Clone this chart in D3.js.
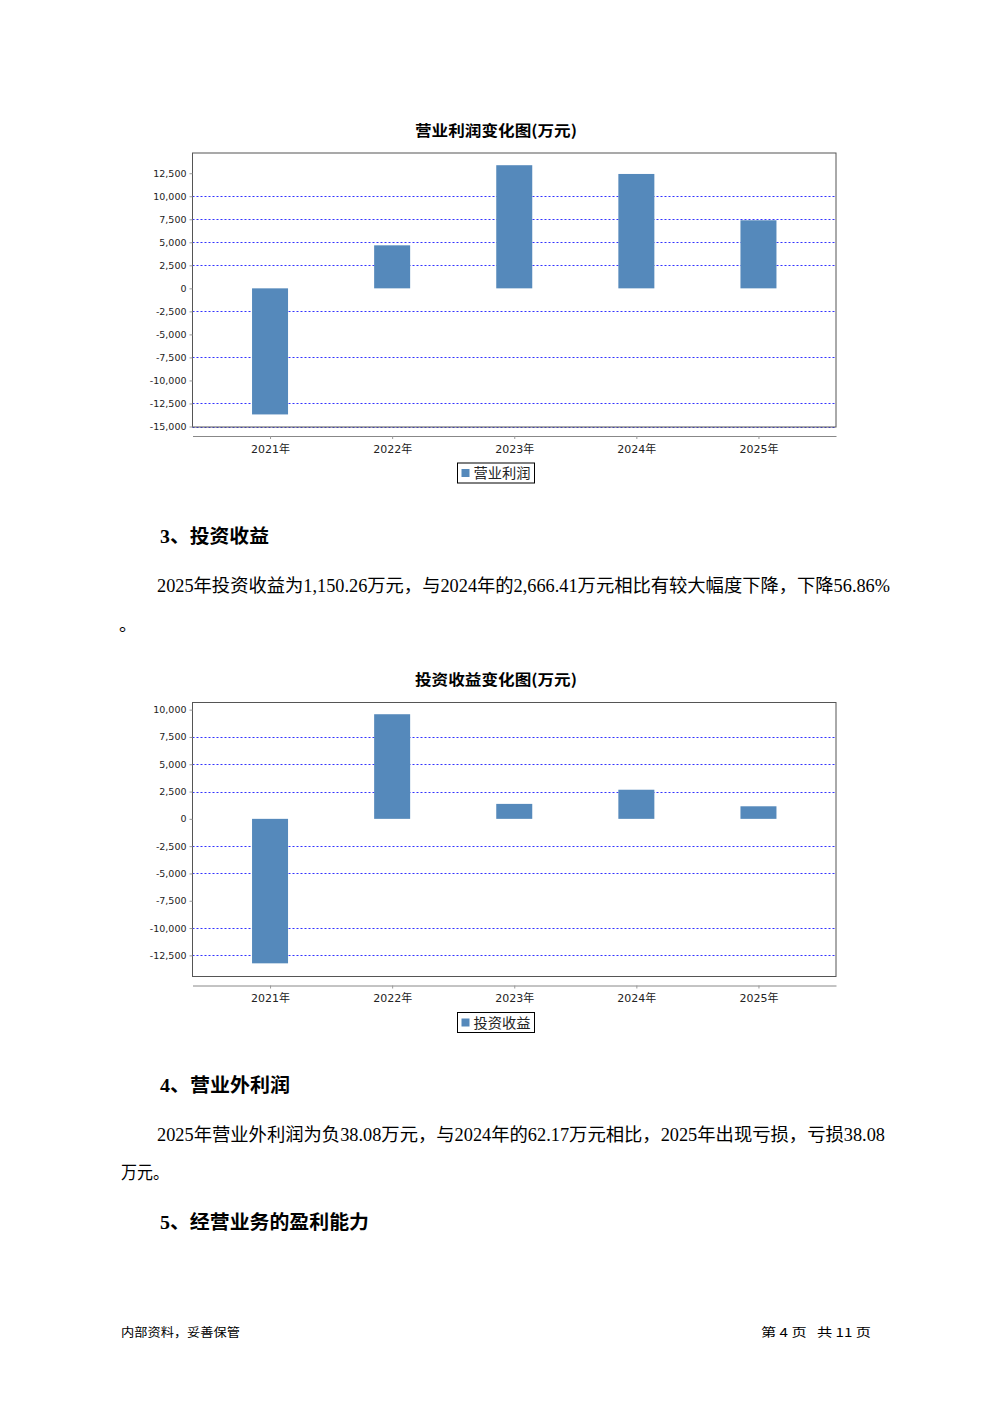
<!DOCTYPE html>
<html><head><meta charset="utf-8">
<script src="https://cdn.jsdelivr.net/npm/d3@7/dist/d3.min.js"></script>
<style>html,body{margin:0;padding:0;background:#fff;}</style>
</head><body>
<script>
// ---- data ----
const categories = ["2021年", "2022年", "2023年", "2024年", "2025年"];
const operatingProfit = [-13690, 4670, 13370, 12420, 7390];
const investmentIncome = [-13230, 9580, 1370, 2666.41, 1150.26];
const ticks1 = [-15000, -12500, -10000, -7500, -5000, -2500, 0, 2500, 5000, 7500, 10000, 12500];
const ticks2 = [-12500, -10000, -7500, -5000, -2500, 0, 2500, 5000, 7500, 10000];
const grid1 = [-15000, -12500, -7500, -2500, 2500, 5000, 7500, 10000];
const grid2 = [-12500, -10000, -5000, -2500, 2500, 5000, 7500];
const domain1 = [-15000, 14750];
const domain2 = [-14390, 10700];

const W = 992, H = 1403;
const svg = d3.select("body").append("svg").attr("width", W).attr("height", H)
  .style("display","block").style("background","#fff");

const CJK = "'Noto Sans CJK SC', sans-serif";
const SERIF = "'Liberation Serif', 'Noto Sans CJK SC', serif";
const SANS = "'DejaVu Sans', 'Noto Sans CJK SC', sans-serif";
const fmtBase = d3.format(",");
const fmt = d => fmtBase(d).replace("\u2212", "-");

function drawChart(o) {
  const g = svg.append("g");
  const left = 192.5, right = 836, top = o.top, bottom = o.top + 274;
  const x = d3.scalePoint().domain(categories).range([left, right]).padding(0.635);
  const y = d3.scaleLinear().domain(o.domain).range([bottom, top]);

  // title
  g.append("text").attr("x", 496).attr("y", top - 17).attr("text-anchor", "middle")
    .attr("font-family", CJK).attr("font-weight", "bold").attr("font-size", 15)
    .attr("textLength", 162).attr("lengthAdjust", "spacingAndGlyphs")
    .attr("fill", "#000").text(o.title);

  g.append("rect").attr("x", left).attr("y", top).attr("width", right - left).attr("height", bottom - top)
    .attr("fill", "#fff");

  // gridlines
  g.selectAll(".grid").data(o.grid).enter().append("line")
    .attr("x1", left).attr("x2", right)
    .attr("y1", d => Math.round(y(d)) + 0.5).attr("y2", d => Math.round(y(d)) + 0.5)
    .attr("stroke", "#3333ff").attr("stroke-width", 1).attr("stroke-dasharray", "2,2");

  // bars
  const bw = 36;
  g.selectAll(".bar").data(o.values).enter().append("rect")
    .attr("x", (d, i) => x(categories[i]) - bw / 2)
    .attr("y", d => y(Math.max(0, d)))
    .attr("width", bw)
    .attr("height", d => Math.abs(y(d) - y(0)))
    .attr("fill", "#5589bb");

  // border
  g.append("rect").attr("x", left).attr("y", top + 0.5).attr("width", right - left).attr("height", bottom - top)
    .attr("fill", "none").attr("stroke", "#555").attr("stroke-width", 1);

  // y axis
  const ya = d3.axisLeft(y).tickValues(o.ticks).tickFormat(fmt).tickSize(3).tickPadding(3);
  const yg = g.append("g").attr("transform", `translate(${left},0)`).call(ya);
  yg.select(".domain").remove();
  yg.selectAll(".tick line").attr("stroke", "#999");
  yg.selectAll(".tick text").attr("font-family", SANS).attr("font-size", 9.5).attr("fill", "#222");

  // x axis (separate line below plot)
  const axY = bottom + 9.5;
  const xa = d3.axisBottom(x).tickSize(3).tickPadding(6).tickSizeOuter(0);
  const xg = g.append("g").attr("transform", `translate(0,${axY})`).call(xa);
  xg.select(".domain").attr("stroke", "#888");
  xg.selectAll(".tick line").attr("stroke", "#999");
  xg.selectAll(".tick text").attr("font-family", SANS).attr("font-size", 11).attr("fill", "#222");

  // legend
  const lx = 457.5, ly = bottom + 36.5;
  g.append("rect").attr("x", lx).attr("y", ly).attr("width", 77).attr("height", 20)
    .attr("fill", "#fff").attr("stroke", "#000").attr("stroke-width", 1);
  g.append("rect").attr("x", lx + 4).attr("y", ly + 6).attr("width", 8).attr("height", 8).attr("fill", "#5589bb");
  g.append("text").attr("x", lx + 16).attr("y", ly + 15).attr("font-family", CJK).attr("font-size", 13.5)
    .attr("textLength", 57).attr("lengthAdjust", "spacingAndGlyphs").attr("fill", "#222").text(o.legend);
}

drawChart({ top: 152.5, domain: domain1, values: operatingProfit, ticks: ticks1, grid: grid1,
  title: "营业利润变化图(万元)", legend: "营业利润" });
drawChart({ top: 702, domain: domain2, values: investmentIncome, ticks: ticks2, grid: grid2,
  title: "投资收益变化图(万元)", legend: "投资收益" });

function txt(x, y, s, size, len, bold, family) {
  svg.append("text").attr("x", x).attr("y", y).attr("font-family", family || SERIF)
    .attr("font-size", size).attr("font-weight", bold ? "bold" : "normal")
    .attr("fill", "#000").style("white-space", "pre")
    .attr("textLength", len).attr("lengthAdjust", "spacingAndGlyphs").text(s);
}

txt(160, 543, "3、投资收益", 19, 109, true);
txt(157, 592, "2025年投资收益为1,150.26万元，与2024年的2,666.41万元相比有较大幅度下降，下降56.86%", 18, 733, false);
svg.append("text").attr("x", 119).attr("y", 631).attr("font-family", CJK).attr("font-size", 18).text("。");
txt(160, 1092, "4、营业外利润", 19, 130, true);
txt(157, 1141, "2025年营业外利润为负38.08万元，与2024年的62.17万元相比，2025年出现亏损，亏损38.08", 18, 728, false);
txt(121, 1179, "万元。", 18, 48, false);
txt(160, 1229, "5、经营业务的盈利能力", 19, 209, true);
txt(121, 1337, "内部资料，妥善保管", 12, 119, false, CJK);
txt(761, 1337, "第 4 页   共 11 页", 12, 110, false, CJK);
</script>
</body></html>
